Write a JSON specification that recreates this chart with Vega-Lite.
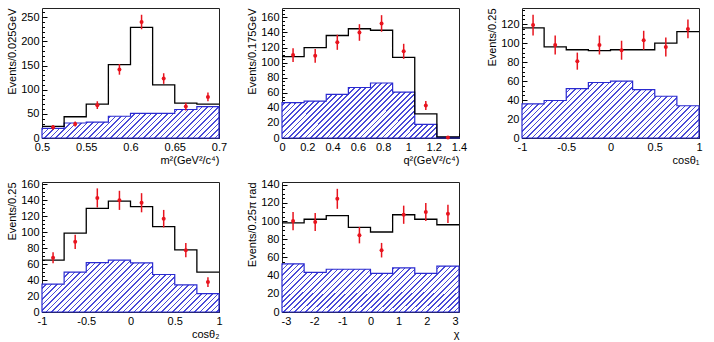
{
"$schema": "https://vega.github.io/schema/vega-lite/v6.json",
"padding": {"left": 6, "top": 7, "right": 5, "bottom": 3},
"params": [{"name": "hs", "value": [
{"offset":0,"color":"#4a4ad8"},{"offset":0.0068,"color":"#4a4ad8"},{"offset":0.0068,"color":"#fff"},{"offset":0.0227,"color":"#fff"},
{"offset":0.0227,"color":"#4a4ad8"},{"offset":0.0295,"color":"#4a4ad8"},{"offset":0.0295,"color":"#fff"},{"offset":0.0455,"color":"#fff"},
{"offset":0.0455,"color":"#4a4ad8"},{"offset":0.0523,"color":"#4a4ad8"},{"offset":0.0523,"color":"#fff"},{"offset":0.0682,"color":"#fff"},
{"offset":0.0682,"color":"#4a4ad8"},{"offset":0.075,"color":"#4a4ad8"},{"offset":0.075,"color":"#fff"},{"offset":0.0909,"color":"#fff"},
{"offset":0.0909,"color":"#4a4ad8"},{"offset":0.0977,"color":"#4a4ad8"},{"offset":0.0977,"color":"#fff"},{"offset":0.1136,"color":"#fff"},
{"offset":0.1136,"color":"#4a4ad8"},{"offset":0.1205,"color":"#4a4ad8"},{"offset":0.1205,"color":"#fff"},{"offset":0.1364,"color":"#fff"},
{"offset":0.1364,"color":"#4a4ad8"},{"offset":0.1432,"color":"#4a4ad8"},{"offset":0.1432,"color":"#fff"},{"offset":0.1591,"color":"#fff"},
{"offset":0.1591,"color":"#4a4ad8"},{"offset":0.1659,"color":"#4a4ad8"},{"offset":0.1659,"color":"#fff"},{"offset":0.1818,"color":"#fff"},
{"offset":0.1818,"color":"#4a4ad8"},{"offset":0.1886,"color":"#4a4ad8"},{"offset":0.1886,"color":"#fff"},{"offset":0.2045,"color":"#fff"},
{"offset":0.2045,"color":"#4a4ad8"},{"offset":0.2114,"color":"#4a4ad8"},{"offset":0.2114,"color":"#fff"},{"offset":0.2273,"color":"#fff"},
{"offset":0.2273,"color":"#4a4ad8"},{"offset":0.2341,"color":"#4a4ad8"},{"offset":0.2341,"color":"#fff"},{"offset":0.25,"color":"#fff"},
{"offset":0.25,"color":"#4a4ad8"},{"offset":0.2568,"color":"#4a4ad8"},{"offset":0.2568,"color":"#fff"},{"offset":0.2727,"color":"#fff"},
{"offset":0.2727,"color":"#4a4ad8"},{"offset":0.2795,"color":"#4a4ad8"},{"offset":0.2795,"color":"#fff"},{"offset":0.2955,"color":"#fff"},
{"offset":0.2955,"color":"#4a4ad8"},{"offset":0.3023,"color":"#4a4ad8"},{"offset":0.3023,"color":"#fff"},{"offset":0.3182,"color":"#fff"},
{"offset":0.3182,"color":"#4a4ad8"},{"offset":0.325,"color":"#4a4ad8"},{"offset":0.325,"color":"#fff"},{"offset":0.3409,"color":"#fff"},
{"offset":0.3409,"color":"#4a4ad8"},{"offset":0.3477,"color":"#4a4ad8"},{"offset":0.3477,"color":"#fff"},{"offset":0.3636,"color":"#fff"},
{"offset":0.3636,"color":"#4a4ad8"},{"offset":0.3705,"color":"#4a4ad8"},{"offset":0.3705,"color":"#fff"},{"offset":0.3864,"color":"#fff"},
{"offset":0.3864,"color":"#4a4ad8"},{"offset":0.3932,"color":"#4a4ad8"},{"offset":0.3932,"color":"#fff"},{"offset":0.4091,"color":"#fff"},
{"offset":0.4091,"color":"#4a4ad8"},{"offset":0.4159,"color":"#4a4ad8"},{"offset":0.4159,"color":"#fff"},{"offset":0.4318,"color":"#fff"},
{"offset":0.4318,"color":"#4a4ad8"},{"offset":0.4386,"color":"#4a4ad8"},{"offset":0.4386,"color":"#fff"},{"offset":0.4545,"color":"#fff"},
{"offset":0.4545,"color":"#4a4ad8"},{"offset":0.4614,"color":"#4a4ad8"},{"offset":0.4614,"color":"#fff"},{"offset":0.4773,"color":"#fff"},
{"offset":0.4773,"color":"#4a4ad8"},{"offset":0.4841,"color":"#4a4ad8"},{"offset":0.4841,"color":"#fff"},{"offset":0.5,"color":"#fff"},
{"offset":0.5,"color":"#4a4ad8"},{"offset":0.5068,"color":"#4a4ad8"},{"offset":0.5068,"color":"#fff"},{"offset":0.5227,"color":"#fff"},
{"offset":0.5227,"color":"#4a4ad8"},{"offset":0.5295,"color":"#4a4ad8"},{"offset":0.5295,"color":"#fff"},{"offset":0.5455,"color":"#fff"},
{"offset":0.5455,"color":"#4a4ad8"},{"offset":0.5523,"color":"#4a4ad8"},{"offset":0.5523,"color":"#fff"},{"offset":0.5682,"color":"#fff"},
{"offset":0.5682,"color":"#4a4ad8"},{"offset":0.575,"color":"#4a4ad8"},{"offset":0.575,"color":"#fff"},{"offset":0.5909,"color":"#fff"},
{"offset":0.5909,"color":"#4a4ad8"},{"offset":0.5977,"color":"#4a4ad8"},{"offset":0.5977,"color":"#fff"},{"offset":0.6136,"color":"#fff"},
{"offset":0.6136,"color":"#4a4ad8"},{"offset":0.6205,"color":"#4a4ad8"},{"offset":0.6205,"color":"#fff"},{"offset":0.6364,"color":"#fff"},
{"offset":0.6364,"color":"#4a4ad8"},{"offset":0.6432,"color":"#4a4ad8"},{"offset":0.6432,"color":"#fff"},{"offset":0.6591,"color":"#fff"},
{"offset":0.6591,"color":"#4a4ad8"},{"offset":0.6659,"color":"#4a4ad8"},{"offset":0.6659,"color":"#fff"},{"offset":0.6818,"color":"#fff"},
{"offset":0.6818,"color":"#4a4ad8"},{"offset":0.6886,"color":"#4a4ad8"},{"offset":0.6886,"color":"#fff"},{"offset":0.7045,"color":"#fff"},
{"offset":0.7045,"color":"#4a4ad8"},{"offset":0.7114,"color":"#4a4ad8"},{"offset":0.7114,"color":"#fff"},{"offset":0.7273,"color":"#fff"},
{"offset":0.7273,"color":"#4a4ad8"},{"offset":0.7341,"color":"#4a4ad8"},{"offset":0.7341,"color":"#fff"},{"offset":0.75,"color":"#fff"},
{"offset":0.75,"color":"#4a4ad8"},{"offset":0.7568,"color":"#4a4ad8"},{"offset":0.7568,"color":"#fff"},{"offset":0.7727,"color":"#fff"},
{"offset":0.7727,"color":"#4a4ad8"},{"offset":0.7795,"color":"#4a4ad8"},{"offset":0.7795,"color":"#fff"},{"offset":0.7955,"color":"#fff"},
{"offset":0.7955,"color":"#4a4ad8"},{"offset":0.8023,"color":"#4a4ad8"},{"offset":0.8023,"color":"#fff"},{"offset":0.8182,"color":"#fff"},
{"offset":0.8182,"color":"#4a4ad8"},{"offset":0.825,"color":"#4a4ad8"},{"offset":0.825,"color":"#fff"},{"offset":0.8409,"color":"#fff"},
{"offset":0.8409,"color":"#4a4ad8"},{"offset":0.8477,"color":"#4a4ad8"},{"offset":0.8477,"color":"#fff"},{"offset":0.8636,"color":"#fff"},
{"offset":0.8636,"color":"#4a4ad8"},{"offset":0.8705,"color":"#4a4ad8"},{"offset":0.8705,"color":"#fff"},{"offset":0.8864,"color":"#fff"},
{"offset":0.8864,"color":"#4a4ad8"},{"offset":0.8932,"color":"#4a4ad8"},{"offset":0.8932,"color":"#fff"},{"offset":0.9091,"color":"#fff"},
{"offset":0.9091,"color":"#4a4ad8"},{"offset":0.9159,"color":"#4a4ad8"},{"offset":0.9159,"color":"#fff"},{"offset":0.9318,"color":"#fff"},
{"offset":0.9318,"color":"#4a4ad8"},{"offset":0.9386,"color":"#4a4ad8"},{"offset":0.9386,"color":"#fff"},{"offset":0.9545,"color":"#fff"},
{"offset":0.9545,"color":"#4a4ad8"},{"offset":0.9614,"color":"#4a4ad8"},{"offset":0.9614,"color":"#fff"},{"offset":0.9773,"color":"#fff"},
{"offset":0.9773,"color":"#4a4ad8"},{"offset":0.9841,"color":"#4a4ad8"},{"offset":0.9841,"color":"#fff"},{"offset":1,"color":"#fff"}
]}],
"datasets": {
"hist": [
{"p":"a","i":0,"lo":0.5,"hi":0.525,"tot":24,"bkg":20},
{"p":"a","i":1,"lo":0.525,"hi":0.55,"tot":44,"bkg":31},
{"p":"a","i":2,"lo":0.55,"hi":0.575,"tot":70,"bkg":33},
{"p":"a","i":3,"lo":0.575,"hi":0.6,"tot":152,"bkg":45},
{"p":"a","i":4,"lo":0.6,"hi":0.625,"tot":229,"bkg":51},
{"p":"a","i":5,"lo":0.625,"hi":0.65,"tot":110,"bkg":51},
{"p":"a","i":6,"lo":0.65,"hi":0.675,"tot":72,"bkg":59},
{"p":"a","i":7,"lo":0.675,"hi":0.7,"tot":70,"bkg":65},
{"p":"b","i":0,"lo":0,"hi":0.175,"tot":108,"bkg":47},
{"p":"b","i":1,"lo":0.175,"hi":0.35,"tot":120,"bkg":49},
{"p":"b","i":2,"lo":0.35,"hi":0.525,"tot":136,"bkg":58},
{"p":"b","i":3,"lo":0.525,"hi":0.7,"tot":145,"bkg":67},
{"p":"b","i":4,"lo":0.7,"hi":0.875,"tot":143,"bkg":73},
{"p":"b","i":5,"lo":0.875,"hi":1.05,"tot":107,"bkg":61},
{"p":"b","i":6,"lo":1.05,"hi":1.225,"tot":32,"bkg":18},
{"p":"b","i":7,"lo":1.225,"hi":1.4,"tot":1.5,"bkg":1},
{"p":"c","i":0,"lo":-1,"hi":-0.75,"tot":116,"bkg":36},
{"p":"c","i":1,"lo":-0.75,"hi":-0.5,"tot":96,"bkg":39.5},
{"p":"c","i":2,"lo":-0.5,"hi":-0.25,"tot":93,"bkg":52},
{"p":"c","i":3,"lo":-0.25,"hi":0,"tot":92,"bkg":58.5},
{"p":"c","i":4,"lo":0,"hi":0.25,"tot":93,"bkg":60},
{"p":"c","i":5,"lo":0.25,"hi":0.5,"tot":93,"bkg":51},
{"p":"c","i":6,"lo":0.5,"hi":0.75,"tot":100,"bkg":44},
{"p":"c","i":7,"lo":0.75,"hi":1,"tot":112,"bkg":34},
{"p":"d","i":0,"lo":-1,"hi":-0.75,"tot":65,"bkg":35},
{"p":"d","i":1,"lo":-0.75,"hi":-0.5,"tot":99,"bkg":50},
{"p":"d","i":2,"lo":-0.5,"hi":-0.25,"tot":130,"bkg":62},
{"p":"d","i":3,"lo":-0.25,"hi":0,"tot":139,"bkg":65},
{"p":"d","i":4,"lo":0,"hi":0.25,"tot":132,"bkg":61.5},
{"p":"d","i":5,"lo":0.25,"hi":0.5,"tot":107,"bkg":47},
{"p":"d","i":6,"lo":0.5,"hi":0.75,"tot":78,"bkg":34},
{"p":"d","i":7,"lo":0.75,"hi":1,"tot":50,"bkg":23},
{"p":"e","i":0,"lo":-3.14159,"hi":-2.35619,"tot":98,"bkg":53},
{"p":"e","i":1,"lo":-2.35619,"hi":-1.5708,"tot":102,"bkg":43.5},
{"p":"e","i":2,"lo":-1.5708,"hi":-0.7854,"tot":106,"bkg":47},
{"p":"e","i":3,"lo":-0.7854,"hi":0,"tot":93,"bkg":47},
{"p":"e","i":4,"lo":0,"hi":0.7854,"tot":88,"bkg":42.5},
{"p":"e","i":5,"lo":0.7854,"hi":1.5708,"tot":107,"bkg":48.5},
{"p":"e","i":6,"lo":1.5708,"hi":2.35619,"tot":102,"bkg":42.5},
{"p":"e","i":7,"lo":2.35619,"hi":3.14159,"tot":96,"bkg":50.5}
],
"pts": [
{"p":"a","xv":0.5125,"y":22,"e":5},{"p":"a","xv":0.5375,"y":29,"e":5},{"p":"a","xv":0.5625,"y":68,"e":8},{"p":"a","xv":0.5875,"y":142,"e":11},
{"p":"a","xv":0.6125,"y":240,"e":15},{"p":"a","xv":0.6375,"y":123,"e":11},{"p":"a","xv":0.6625,"y":65,"e":8},{"p":"a","xv":0.6875,"y":85,"e":9},
{"p":"b","xv":0.0875,"y":110,"e":9},{"p":"b","xv":0.2625,"y":109,"e":9},{"p":"b","xv":0.4375,"y":127,"e":10},{"p":"b","xv":0.6125,"y":140,"e":11},
{"p":"b","xv":0.7875,"y":152,"e":11},{"p":"b","xv":0.9625,"y":115,"e":10},{"p":"b","xv":1.1375,"y":43,"e":6},{"p":"b","xv":1.3125,"y":0.5,"e":0.5},
{"p":"c","xv":-0.875,"y":119,"e":11},{"p":"c","xv":-0.625,"y":98,"e":10},{"p":"c","xv":-0.375,"y":81,"e":9},{"p":"c","xv":-0.125,"y":98,"e":10},
{"p":"c","xv":0.125,"y":92.5,"e":10},{"p":"c","xv":0.375,"y":103,"e":10},{"p":"c","xv":0.625,"y":96,"e":10},{"p":"c","xv":0.875,"y":115,"e":10},
{"p":"d","xv":-0.875,"y":68,"e":7},{"p":"d","xv":-0.625,"y":88,"e":9},{"p":"d","xv":-0.375,"y":143,"e":12},{"p":"d","xv":-0.125,"y":140,"e":12},
{"p":"d","xv":0.125,"y":137,"e":12},{"p":"d","xv":0.375,"y":117,"e":11},{"p":"d","xv":0.625,"y":77.5,"e":9},{"p":"d","xv":0.875,"y":37.5,"e":6},
{"p":"e","xv":-2.749,"y":100,"e":10},{"p":"e","xv":-1.963,"y":99,"e":10},{"p":"e","xv":-1.178,"y":124.5,"e":11},{"p":"e","xv":-0.393,"y":84.5,"e":9},
{"p":"e","xv":0.393,"y":68,"e":8},{"p":"e","xv":1.178,"y":107,"e":10},{"p":"e","xv":1.963,"y":110,"e":10},{"p":"e","xv":2.749,"y":108,"e":10}
]
},
"columns": 3,
"spacing": {"row": 44, "column": 63},
"bounds": "flush",
"concat": [
{
"width": 177, "height": 130,
"resolve": {"axis": {"y": "independent"}},
"encoding": {"x": {"field": "xv", "type": "quantitative", "scale": {"domain": [0.5, 0.7], "nice": false, "zero": false}, "axis": {"values": [0.5, 0.55, 0.6, 0.65, 0.7], "labelExpr": "'' + datum.value", "labelOverlap": false, "title": "m²(GeV²/c⁴)"}}},
"layer": [
{"data": {"name": "hist"}, "transform": [{"filter": "datum.p=='a'"}, {"fold": ["lo", "hi"], "as": ["k", "xv"]}],
 "mark": {"type": "area", "fill": {"expr": "{gradient:'linear',x1:0,y1:0,x2:1.3255,y2:0.2351,stops:hs}"}, "stroke": "#2a2ad0", "strokeWidth": 1.2},
 "encoding": {"y": {"field": "bkg", "type": "quantitative", "stack": null, "scale": {"domain": [0, 269], "nice": false}, "axis": {"values": [0, 50, 100, 150, 200, 250], "labelOverlap": false, "orient": "left", "title": "Events/0.025GeV"}}, "order": [{"field": "i", "type": "quantitative"}, {"field": "k", "sort": "descending"}]}},
{"data": {"name": "hist"}, "transform": [{"filter": "datum.p=='a'"}, {"fold": ["lo", "hi"], "as": ["k", "xv"]}],
 "mark": {"type": "line", "color": "black", "strokeWidth": 1.3},
 "encoding": {"y": {"field": "tot", "type": "quantitative", "axis": {"values": [10,20,30,40,60,70,80,90,110,120,130,140,160,170,180,190,210,220,230,240,260], "orient": "left", "labels": false, "title": null, "tickSize": -2.5}}, "order": [{"field": "i", "type": "quantitative"}, {"field": "k", "sort": "descending"}]}},
{"data": {"name": "pts"}, "transform": [{"filter": "datum.p=='a'"}],
 "mark": {"type": "errorbar", "color": "#e8141e", "thickness": 1.5},
 "encoding": {"y": {"field": "y", "type": "quantitative", "axis": null}, "yError": {"field": "e"}}},
{"data": {"name": "pts"}, "transform": [{"filter": "datum.p=='a'"}],
 "mark": {"type": "circle", "color": "#e8141e", "size": 16, "opacity": 1},
 "encoding": {"y": {"field": "y", "type": "quantitative", "axis": null}}},
{"data": {"values": [{"lab": "(a)"}]},
 "mark": {"type": "text", "fontWeight": "bold", "fontSize": 12},
 "encoding": {"x": {"datum": 0.666}, "y": {"datum": 242, "axis": null}, "text": {"field": "lab"}}}
]
},
{
"width": 177, "height": 130,
"resolve": {"axis": {"y": "independent"}},
"encoding": {"x": {"field": "xv", "type": "quantitative", "scale": {"domain": [0, 1.4], "nice": false, "zero": false}, "axis": {"values": [0, 0.2, 0.4, 0.6, 0.8, 1, 1.2, 1.4], "labelExpr": "'' + datum.value", "labelOverlap": false, "title": "q²(GeV²/c⁴)"}}},
"layer": [
{"data": {"name": "hist"}, "transform": [{"filter": "datum.p=='b'"}, {"fold": ["lo", "hi"], "as": ["k", "xv"]}],
 "mark": {"type": "area", "fill": {"expr": "{gradient:'linear',x1:0,y1:0,x2:1.2468,y2:0.3874,stops:hs}"}, "stroke": "#2a2ad0", "strokeWidth": 1.2},
 "encoding": {"y": {"field": "bkg", "type": "quantitative", "stack": null, "scale": {"domain": [0, 172.5], "nice": false}, "axis": {"values": [0, 20, 40, 60, 80, 100, 120, 140, 160], "labelOverlap": false, "orient": "left", "title": "Events/0.175GeV"}}, "order": [{"field": "i", "type": "quantitative"}, {"field": "k", "sort": "descending"}]}},
{"data": {"name": "hist"}, "transform": [{"filter": "datum.p=='b'"}, {"fold": ["lo", "hi"], "as": ["k", "xv"]}],
 "mark": {"type": "line", "color": "black", "strokeWidth": 1.3},
 "encoding": {"y": {"field": "tot", "type": "quantitative", "axis": {"values": [5,10,15,25,30,35,45,50,55,65,70,75,85,90,95,105,110,115,125,130,135,145,150,155,165,170], "orient": "left", "labels": false, "title": null, "tickSize": -2.5}}, "order": [{"field": "i", "type": "quantitative"}, {"field": "k", "sort": "descending"}]}},
{"data": {"name": "pts"}, "transform": [{"filter": "datum.p=='b'"}],
 "mark": {"type": "errorbar", "color": "#e8141e", "thickness": 1.5},
 "encoding": {"y": {"field": "y", "type": "quantitative", "axis": null}, "yError": {"field": "e"}}},
{"data": {"name": "pts"}, "transform": [{"filter": "datum.p=='b'"}],
 "mark": {"type": "circle", "color": "#e8141e", "size": 16, "opacity": 1},
 "encoding": {"y": {"field": "y", "type": "quantitative", "axis": null}}},
{"data": {"values": [{"lab": "(b)"}]},
 "mark": {"type": "text", "fontWeight": "bold", "fontSize": 12},
 "encoding": {"x": {"datum": 1.178}, "y": {"datum": 155, "axis": null}, "text": {"field": "lab"}}}
]
},
{
"width": 177, "height": 130,
"resolve": {"axis": {"y": "independent"}},
"encoding": {"x": {"field": "xv", "type": "quantitative", "scale": {"domain": [-1, 1], "nice": false, "zero": false}, "axis": {"values": [-1, -0.5, 0, 0.5, 1], "labelExpr": "'' + datum.value", "labelOverlap": false, "title": "cosθ₁"}}},
"layer": [
{"data": {"name": "hist"}, "transform": [{"filter": "datum.p=='c'"}, {"fold": ["lo", "hi"], "as": ["k", "xv"]}],
 "mark": {"type": "area", "fill": {"expr": "{gradient:'linear',x1:0,y1:0,x2:1.2392,y2:0.3983,stops:hs}"}, "stroke": "#2a2ad0", "strokeWidth": 1.2},
 "encoding": {"y": {"field": "bkg", "type": "quantitative", "stack": null, "scale": {"domain": [0, 137], "nice": false}, "axis": {"values": [0, 20, 40, 60, 80, 100, 120], "labelOverlap": false, "orient": "left", "title": "Events/0.25"}}, "order": [{"field": "i", "type": "quantitative"}, {"field": "k", "sort": "descending"}]}},
{"data": {"name": "hist"}, "transform": [{"filter": "datum.p=='c'"}, {"fold": ["lo", "hi"], "as": ["k", "xv"]}],
 "mark": {"type": "line", "color": "black", "strokeWidth": 1.3},
 "encoding": {"y": {"field": "tot", "type": "quantitative", "axis": {"values": [5,10,15,25,30,35,45,50,55,65,70,75,85,90,95,105,110,115,125,130,135], "orient": "left", "labels": false, "title": null, "tickSize": -2.5}}, "order": [{"field": "i", "type": "quantitative"}, {"field": "k", "sort": "descending"}]}},
{"data": {"name": "pts"}, "transform": [{"filter": "datum.p=='c'"}],
 "mark": {"type": "errorbar", "color": "#e8141e", "thickness": 1.5},
 "encoding": {"y": {"field": "y", "type": "quantitative", "axis": null}, "yError": {"field": "e"}}},
{"data": {"name": "pts"}, "transform": [{"filter": "datum.p=='c'"}],
 "mark": {"type": "circle", "color": "#e8141e", "size": 16, "opacity": 1},
 "encoding": {"y": {"field": "y", "type": "quantitative", "axis": null}}},
{"data": {"values": [{"lab": "(c)"}]},
 "mark": {"type": "text", "fontWeight": "bold", "fontSize": 12},
 "encoding": {"x": {"datum": 0.661}, "y": {"datum": 123, "axis": null}, "text": {"field": "lab"}}}
]
},
{
"width": 177, "height": 130,
"resolve": {"axis": {"y": "independent"}},
"encoding": {"x": {"field": "xv", "type": "quantitative", "scale": {"domain": [-1, 1], "nice": false, "zero": false}, "axis": {"values": [-1, -0.5, 0, 0.5, 1], "labelExpr": "'' + datum.value", "labelOverlap": false, "title": "cosθ₂"}}},
"layer": [
{"data": {"name": "hist"}, "transform": [{"filter": "datum.p=='d'"}, {"fold": ["lo", "hi"], "as": ["k", "xv"]}],
 "mark": {"type": "area", "fill": {"expr": "{gradient:'linear',x1:0,y1:0,x2:1.2598,y2:0.368,stops:hs}"}, "stroke": "#2a2ad0", "strokeWidth": 1.2},
 "encoding": {"y": {"field": "bkg", "type": "quantitative", "stack": null, "scale": {"domain": [0, 163], "nice": false}, "axis": {"values": [0, 20, 40, 60, 80, 100, 120, 140, 160], "labelOverlap": false, "orient": "left", "title": "Events/0.25"}}, "order": [{"field": "i", "type": "quantitative"}, {"field": "k", "sort": "descending"}]}},
{"data": {"name": "hist"}, "transform": [{"filter": "datum.p=='d'"}, {"fold": ["lo", "hi"], "as": ["k", "xv"]}],
 "mark": {"type": "line", "color": "black", "strokeWidth": 1.3},
 "encoding": {"y": {"field": "tot", "type": "quantitative", "axis": {"values": [5,10,15,25,30,35,45,50,55,65,70,75,85,90,95,105,110,115,125,130,135,145,150,155], "orient": "left", "labels": false, "title": null, "tickSize": -2.5}}, "order": [{"field": "i", "type": "quantitative"}, {"field": "k", "sort": "descending"}]}},
{"data": {"name": "pts"}, "transform": [{"filter": "datum.p=='d'"}],
 "mark": {"type": "errorbar", "color": "#e8141e", "thickness": 1.5},
 "encoding": {"y": {"field": "y", "type": "quantitative", "axis": null}, "yError": {"field": "e"}}},
{"data": {"name": "pts"}, "transform": [{"filter": "datum.p=='d'"}],
 "mark": {"type": "circle", "color": "#e8141e", "size": 16, "opacity": 1},
 "encoding": {"y": {"field": "y", "type": "quantitative", "axis": null}}},
{"data": {"values": [{"lab": "(d)"}]},
 "mark": {"type": "text", "fontWeight": "bold", "fontSize": 12},
 "encoding": {"x": {"datum": 0.678}, "y": {"datum": 148, "axis": null}, "text": {"field": "lab"}}}
]
},
{
"width": 177, "height": 130,
"resolve": {"axis": {"y": "independent"}},
"encoding": {"x": {"field": "xv", "type": "quantitative", "scale": {"domain": [-3.14159, 3.14159], "nice": false, "zero": false}, "axis": {"values": [-3, -2, -1, 0, 1, 2, 3], "labelExpr": "'' + datum.value", "labelOverlap": false, "title": "χ"}}},
"layer": [
{"data": {"name": "hist"}, "transform": [{"filter": "datum.p=='e'"}, {"fold": ["lo", "hi"], "as": ["k", "xv"]}],
 "mark": {"type": "area", "fill": {"expr": "{gradient:'linear',x1:0,y1:0,x2:1.271,y2:0.3497,stops:hs}"}, "stroke": "#2a2ad0", "strokeWidth": 1.2},
 "encoding": {"y": {"field": "bkg", "type": "quantitative", "stack": null, "scale": {"domain": [0, 143], "nice": false}, "axis": {"values": [0, 20, 40, 60, 80, 100, 120, 140], "labelOverlap": false, "orient": "left", "title": "Events/0.25π rad"}}, "order": [{"field": "i", "type": "quantitative"}, {"field": "k", "sort": "descending"}]}},
{"data": {"name": "hist"}, "transform": [{"filter": "datum.p=='e'"}, {"fold": ["lo", "hi"], "as": ["k", "xv"]}],
 "mark": {"type": "line", "color": "black", "strokeWidth": 1.3},
 "encoding": {"y": {"field": "tot", "type": "quantitative", "axis": {"values": [5,10,15,25,30,35,45,50,55,65,70,75,85,90,95,105,110,115,125,130,135], "orient": "left", "labels": false, "title": null, "tickSize": -2.5}}, "order": [{"field": "i", "type": "quantitative"}, {"field": "k", "sort": "descending"}]}},
{"data": {"name": "pts"}, "transform": [{"filter": "datum.p=='e'"}],
 "mark": {"type": "errorbar", "color": "#e8141e", "thickness": 1.5},
 "encoding": {"y": {"field": "y", "type": "quantitative", "axis": null}, "yError": {"field": "e"}}},
{"data": {"name": "pts"}, "transform": [{"filter": "datum.p=='e'"}],
 "mark": {"type": "circle", "color": "#e8141e", "size": 16, "opacity": 1},
 "encoding": {"y": {"field": "y", "type": "quantitative", "axis": null}}},
{"data": {"values": [{"lab": "(e)"}]},
 "mark": {"type": "text", "fontWeight": "bold", "fontSize": 12},
 "encoding": {"x": {"datum": 2.13}, "y": {"datum": 129, "axis": null}, "text": {"field": "lab"}}}
]
}
],
"config": {
"font": "Liberation Sans",
"view": {"stroke": "#222", "strokeWidth": 1},
"axis": {"grid": false, "domain": false, "ticks": true, "tickColor": "black", "tickSize": -5, "tickWidth": 1, "labelPadding": 8, "labelFont": "Liberation Sans", "labelFontSize": 11, "labelColor": "black", "labelFlush": false, "labelOverlap": false, "titleFont": "Liberation Sans", "titleFontSize": 11, "titleFontWeight": "normal", "titleColor": "black"},
"axisX": {"titleAnchor": "end", "titlePadding": 2},
"axisY": {"titleAnchor": "end", "titlePadding": 3},
"text": {"font": "Liberation Sans", "color": "black"}
}
}
